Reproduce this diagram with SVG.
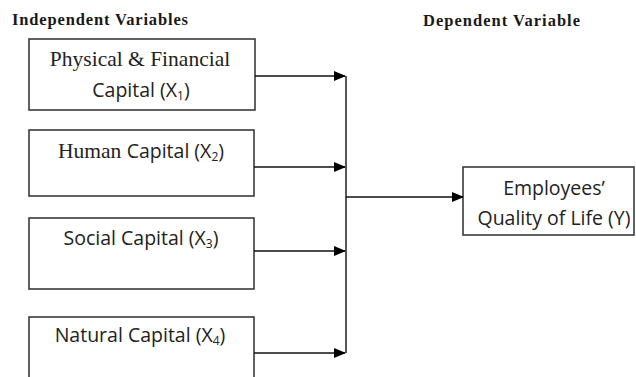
<svg xmlns="http://www.w3.org/2000/svg" width="636" height="377" viewBox="0 0 636 377">
<style>
.box{fill:#fff;stroke:#3a3a3a;stroke-width:1.6}
.hd{font-family:"Liberation Serif",serif;font-weight:bold;font-size:16.5px;fill:#1a1a1a}
.sr{font-family:"Liberation Serif",serif;font-size:21.5px;fill:#222}
.ss{font-family:"Open Sans","Noto Sans",sans-serif;font-size:19.5px;fill:#222}
.sub{font-size:12px}
.cn{stroke:#111;stroke-width:1.4;fill:none}
</style>
<defs>
<marker id="ah" markerWidth="12" markerHeight="10" refX="11" refY="5" orient="auto" markerUnits="userSpaceOnUse">
<path d="M0,0 L12,5 L0,10 Z" fill="#000"/>
</marker>
</defs>
<rect width="636" height="377" fill="#fff"/>
<text class="hd" x="12" y="25" textLength="176" lengthAdjust="spacing">Independent Variables</text>
<text class="hd" x="423" y="26" textLength="157" lengthAdjust="spacing">Dependent Variable</text>
<g id="x1">
<rect class="box" x="29" y="39" width="226" height="71"/>
<text class="sr" x="140" y="66" text-anchor="middle">Physical &amp; Financial</text>
<text class="ss" x="141" y="97" text-anchor="middle">Capital (X<tspan class="sub" dy="3">1</tspan><tspan dy="-3">)</tspan></text>
</g>
<g id="x2">
<rect class="box" x="29" y="130" width="225" height="66"/>
<text x="141" y="158" text-anchor="middle"><tspan class="sr">Human </tspan><tspan class="ss">Capital (X<tspan class="sub" dy="3">2</tspan><tspan dy="-3">)</tspan></tspan></text>
</g>
<g id="x3">
<rect class="box" x="29" y="218" width="225" height="71"/>
<text class="ss" x="141" y="245" text-anchor="middle">Social Capital (X<tspan class="sub" dy="3">3</tspan><tspan dy="-3">)</tspan></text>
</g>
<g id="x4">
<rect class="box" x="29" y="317" width="225" height="70"/>
<text class="ss" x="140" y="342" text-anchor="middle">Natural Capital (X<tspan class="sub" dy="3">4</tspan><tspan dy="-3">)</tspan></text>
</g>
<g id="y">
<rect class="box" x="463" y="167" width="171" height="68"/>
<text class="ss" x="554" y="195" text-anchor="middle">Employees’</text>
<text class="ss" x="554" y="225" text-anchor="middle">Quality of Life (Y)</text>
</g>
<g id="connectors">
<line class="cn" x1="255" y1="76" x2="345" y2="76" marker-end="url(#ah)"/>
<line class="cn" x1="254" y1="167" x2="345" y2="167" marker-end="url(#ah)"/>
<line class="cn" x1="254" y1="251" x2="345" y2="251" marker-end="url(#ah)"/>
<line class="cn" x1="254" y1="353" x2="345" y2="353" marker-end="url(#ah)"/>
<line class="cn" x1="346" y1="76" x2="346" y2="353"/>
<line class="cn" x1="346" y1="197" x2="463" y2="197" marker-end="url(#ah)"/>
</g>
</svg>
